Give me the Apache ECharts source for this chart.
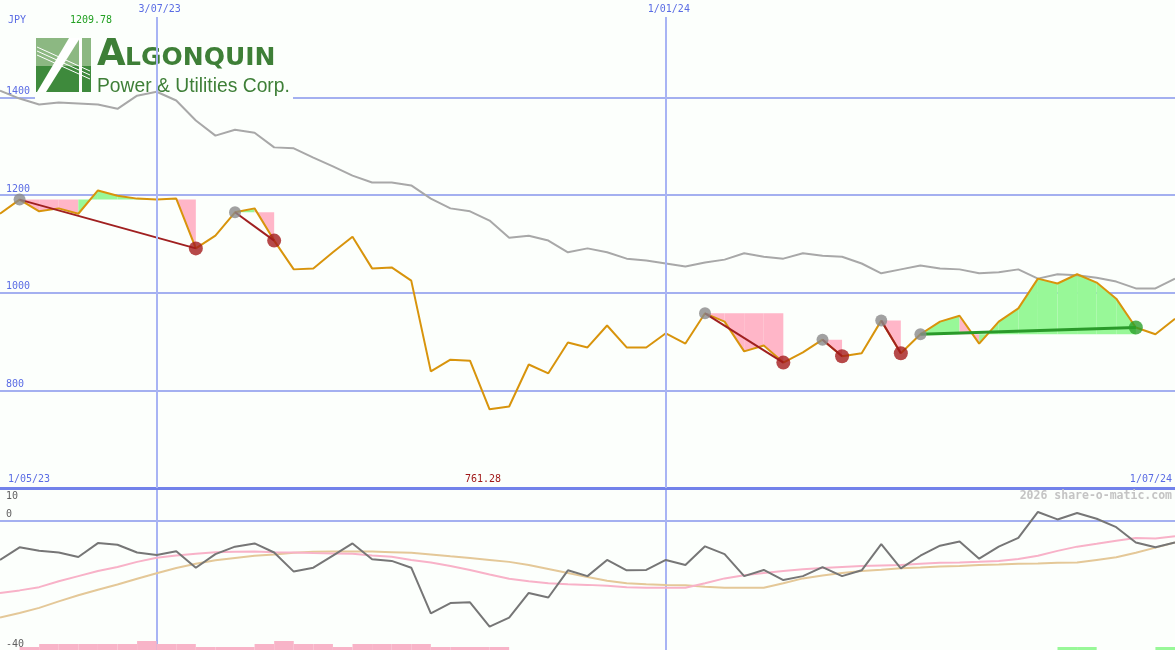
<!DOCTYPE html>
<html><head><meta charset="utf-8">
<script src="https://cdn.jsdelivr.net/npm/echarts@6/dist/echarts.min.js"></script>
<style>html,body{margin:0;padding:0;background:#fcfffc}#c{width:1175px;height:650px}</style>
</head><body><div id="c"></div>
<script>
// ---- data ----
const dates = ['8/05/23','15/05/23','22/05/23','29/05/23','5/06/23','12/06/23','19/06/23','26/06/23','3/07/23','10/07/23',
'17/07/23','24/07/23','31/07/23','7/08/23','14/08/23','21/08/23','28/08/23','4/09/23','11/09/23','18/09/23',
'25/09/23','2/10/23','9/10/23','16/10/23','23/10/23','30/10/23','6/11/23','13/11/23','20/11/23','27/11/23',
'4/12/23','11/12/23','18/12/23','25/12/23','1/01/24','8/01/24','15/01/24','22/01/24','29/01/24','5/02/24',
'12/02/24','19/02/24','26/02/24','4/03/24','11/03/24','18/03/24','25/03/24','1/04/24','8/04/24','15/04/24',
'22/04/24','29/04/24','6/05/24','13/05/24','20/05/24','27/05/24','3/06/24','10/06/24','17/06/24','24/06/24','1/07/24'];
const price = [1162,1191,1167,1173,1162,1209.78,1199,1193,1191,1193,
1091,1117,1165,1173,1107,1048,1050,1083,1115,1050,
1052,1025,839,863,861,761.28,767,853,835,898,
888,933,888,888,917,896,958,941,880,892,
857,878,904,870,876,943,876,915,941,953,
896,941,968,1029,1019,1038,1021,988,929,915,947];
const refLine = [1414,1398,1386,1390,1388,1386,1377,1404,1412,1394,
1353,1322,1334,1328,1298,1296,1277,1259,1240,1226,
1226,1220,1193,1173,1167,1148,1113,1117,1107,1083,
1091,1083,1070,1066,1060,1054,1062,1068,1081,1074,
1070,1081,1076,1074,1060,1040,1048,1056,1050,1048,
1040,1042,1048,1029,1038,1036,1031,1023,1009,1009,1029];
const momentum = [-12.2,-8.3,-9.4,-9.9,-11.3,-7.0,-7.5,-9.9,-10.7,-9.5,
-14.6,-10.4,-8.1,-7.1,-9.9,-15.8,-14.6,-10.9,-7.1,-12.0,
-12.5,-14.6,-28.7,-25.5,-25.3,-32.8,-30.0,-22.4,-23.8,-15.4,
-17.2,-12.2,-15.4,-15.3,-12.2,-13.75,-8.0,-10.4,-17.2,-15.3,
-18.4,-17.2,-14.4,-17.2,-15.4,-7.3,-14.8,-10.9,-7.8,-6.5,
-11.8,-8.1,-5.4,2.6,0.3,2.3,0.5,-2.1,-6.8,-8.3,-6.8];
const pinkAvg = [-22.4,-21.6,-20.6,-18.8,-17.2,-15.6,-14.4,-12.8,-11.5,-10.8,
-10.3,-9.8,-9.7,-9.6,-9.8,-9.9,-10.1,-10.2,-10.3,-10.8,
-11.25,-12.2,-13.0,-14.1,-15.3,-16.7,-18.0,-18.75,-19.4,-19.7,
-19.9,-20.2,-20.6,-20.8,-20.8,-20.8,-19.4,-17.9,-16.9,-16.2,
-15.6,-15.1,-14.7,-14.4,-14.1,-13.9,-13.75,-13.4,-13.1,-13.0,
-12.8,-12.5,-11.9,-10.9,-9.4,-8.1,-7.2,-6.25,-5.4,-5.6,-4.9];
const tanAvg = [-30,-28.6,-27.0,-25,-23.1,-21.4,-19.8,-18.0,-16.3,-14.7,
-13.4,-12.3,-11.6,-10.9,-10.5,-10,-9.7,-9.6,-9.6,-9.6,
-9.8,-10,-10.5,-11.1,-11.6,-12.2,-12.8,-13.75,-15,-16.25,
-17.5,-18.6,-19.4,-19.7,-19.9,-20,-20.5,-20.8,-20.8,-20.8,
-19.4,-17.9,-17.0,-16.25,-15.6,-15.2,-14.75,-14.5,-14.2,-14.1,
-13.75,-13.6,-13.4,-13.3,-13.1,-13.0,-12.2,-11.4,-10,-8.4,-6.8];
const swingStart = [1,12,36,42,45,47];
const swingEnd = [10,14,40,43,46,58];
const pinkBars = [0,1,2,2,2,2,2,3,2,2,1,1,1,2,3,2,2,1,2,2,2,2,1,1,1,1,
0,0,0,0,0,0,0,0,0,0,0,0,0,0,0,0,0,0,0,0,0,0,0,0,0,0,0,0,0,0,0,0,0,0];
const greenBars = [0,0,0,0,0,0,0,0,0,0,0,0,0,0,0,0,0,0,0,0,0,0,0,0,0,0,0,0,0,0,
0,0,0,0,0,0,0,0,0,0,0,0,0,0,0,0,0,0,0,0,0,0,0,0,1,1,0,0,0,1];
const markerDates = ['3/07/23','1/01/24'];
const startLabel = '1/05/23';
const currency = 'JPY';
const watermark = '2026 share-o-matic.com';

// ---- styles ----
const BG = '#fcfffc', BLUE = '#5a6ce4', HLINE = '#a4b0f0', VLINE = '#a8b4f4';
const MONO = 'DejaVu Sans Mono';
const PINK = '#ffb6c8', GREEN = '#98f898';
const LOGO = '#3e7f37';

const maxIdx = price.indexOf(Math.max(...price));
const minIdx = price.indexOf(Math.min(...price));

const fillData = [];
swingStart.forEach((s, k) => {
  const e = swingEnd[k], lvl = price[s];
  for (let i = s; i < e; i++) fillData.push([i, lvl, price[i], price[i + 1]]);
});

const chart = echarts.init(document.getElementById('c'), null, {renderer: 'canvas'});
const series = [];
series.push({
  type: 'custom', xAxisIndex: 0, yAxisIndex: 0, z: 2, silent: true,
  data: fillData, encode: {x: 0, y: [1, 2, 3]},
  renderItem: (params, api) => {
    const i = api.value(0), lvl = api.value(1), a = api.value(2), b = api.value(3);
    return {type: 'polygon', shape: {points: [api.coord([i, lvl]), api.coord([i, a]), api.coord([i + 1, b]), api.coord([i + 1, lvl])]},
      style: {fill: b >= lvl ? GREEN : PINK}};
  }
});
series.push({type: 'line', data: [], z: 0, silent: true, xAxisIndex: 0, yAxisIndex: 0,
  markLine: {symbol: 'none', silent: true, label: {show: false}, animation: false,
    lineStyle: {color: VLINE, width: 2, type: 'solid'},
    data: markerDates.map(d => [{coord: [d, 1565]}, {coord: [d, 600]}])}});
series.push({type: 'line', data: refLine, xAxisIndex: 0, yAxisIndex: 0, z: 3, symbol: 'none', lineStyle: {color: '#a8a8a8', width: 2}});
series.push({type: 'line', data: price, xAxisIndex: 0, yAxisIndex: 0, z: 3, symbol: 'none', lineStyle: {color: '#d8940c', width: 2}});
swingStart.forEach((s, k) => {
  const e = swingEnd[k];
  const up = price[e] > price[s];
  series.push({type: 'line', xAxisIndex: 0, yAxisIndex: 0, z: 4, symbol: 'none',
    data: [[s, price[s]], [e, price[e]]], lineStyle: {color: up ? '#2a9a2a' : '#a02020', width: up ? 3 : 2}});
});
series.push({type: 'scatter', xAxisIndex: 0, yAxisIndex: 0, z: 5, symbolSize: 12, itemStyle: {color: '#8a8a8a'},
  data: swingStart.map(s => [s, price[s]])});
series.push({type: 'scatter', xAxisIndex: 0, yAxisIndex: 0, z: 5, symbolSize: 14,
  data: swingEnd.map((e, k) => ({value: [e, price[e]], itemStyle: {color: price[e] > price[swingStart[k]] ? '#2aa02a' : '#a41c1c'}}))});
// lower panel
series.push({type: 'line', data: tanAvg, xAxisIndex: 2, yAxisIndex: 1, symbol: 'none', lineStyle: {color: '#e4c898', width: 2}});
series.push({type: 'line', data: pinkAvg, xAxisIndex: 2, yAxisIndex: 1, symbol: 'none', lineStyle: {color: '#f8b2c8', width: 2}});
series.push({type: 'line', data: momentum, xAxisIndex: 2, yAxisIndex: 1, symbol: 'none', lineStyle: {color: '#767676', width: 2}});
series.push({type: 'bar', data: pinkBars, xAxisIndex: 3, yAxisIndex: 3, barWidth: '100%', barGap: '-100%', itemStyle: {color: '#f8b4c8'}});
series.push({type: 'bar', data: greenBars, xAxisIndex: 3, yAxisIndex: 3, barWidth: '100%', barGap: '-100%', itemStyle: {color: '#98f898'}});

const lblBase = {fontFamily: MONO, fontSize: 10};
const gridBase = {left: 0, right: 0, outerBoundsMode: 'none', containLabel: false};
const option = {
  backgroundColor: BG,
  animation: false,
  grid: [
    Object.assign({top: 0, height: 488}, gridBase),
    Object.assign({top: 488, height: 162}, gridBase),
    Object.assign({top: 620, height: 30}, gridBase)
  ],
  xAxis: [
    {gridIndex: 0, type: 'category', data: dates, boundaryGap: false, position: 'bottom',
      axisLine: {show: true, lineStyle: {color: '#7282ea', width: 3}}, axisTick: {show: false}, splitLine: {show: false},
      axisLabel: Object.assign({inside: true, interval: 0, margin: 4, color: BLUE, alignMinLabel: 'left', alignMaxLabel: 'right',
        padding: [0, 3, 0, 8],
        formatter: (v, i) => i === 0 ? startLabel : (i === dates.length - 1 ? v : (i === minIdx ? '{m|' + price[minIdx].toFixed(2) + '}' : '')),
        rich: {m: {color: '#a01818', fontFamily: MONO, fontSize: 10, padding: [0, 18, 0, 0]}}}, lblBase)},
    {gridIndex: 0, type: 'category', data: dates, boundaryGap: false, position: 'top',
      axisLine: {show: false}, axisTick: {show: false}, splitLine: {show: false},
      axisLabel: Object.assign({inside: true, interval: 0, margin: 4, color: BLUE, padding: [0, 0, 0, 6],
        formatter: v => markerDates.includes(v) ? v : ''}, lblBase)},
    {gridIndex: 1, type: 'category', data: dates, boundaryGap: false,
      axisLine: {show: false}, axisTick: {show: false}, axisLabel: {show: false},
      splitLine: {show: true, interval: (i, v) => markerDates.includes(v), lineStyle: {color: VLINE, width: 2}}},
    {gridIndex: 2, type: 'category', data: dates.slice(0, dates.length - 1), boundaryGap: true, show: false}
  ],
  yAxis: [
    {gridIndex: 0, type: 'value', min: 600, max: 1600, interval: 200, position: 'left',
      axisLine: {show: false}, axisTick: {show: false},
      axisLabel: Object.assign({inside: true, margin: 6, color: BLUE, verticalAlign: 'bottom', padding: [0, 0, 1, 0],
        formatter: v => (v === 600 || v === 1600) ? '' : String(v)}, lblBase),
      splitLine: {show: true, showMinLine: false, showMaxLine: false, lineStyle: {color: HLINE, width: 2}}},
    {gridIndex: 1, type: 'value', min: -40, max: 10, interval: 40, position: 'left',
      axisLine: {show: false}, axisTick: {show: false},
      axisLabel: Object.assign({inside: true, margin: 6, color: '#606060', verticalAlign: 'bottom', padding: [0, 0, 1, 0],
        formatter: v => (v === 0 || v === -40) ? String(v) : ''}, lblBase),
      splitLine: {show: true, showMinLine: false, showMaxLine: false, lineStyle: {color: HLINE, width: 2}}},
    {gridIndex: 1, type: 'value', min: -40, max: 10, interval: 50, position: 'left', offset: 0,
      axisLine: {show: false}, axisTick: {show: false}, splitLine: {show: false},
      axisLabel: Object.assign({inside: true, margin: 6, color: '#606060', verticalAlign: 'top', padding: [3, 0, 0, 0],
        formatter: v => v === 10 ? '10' : ''}, lblBase)},
    {gridIndex: 2, type: 'value', min: 0, max: 10, show: false}
  ],
  graphic: [
    {type: 'rect', z: 1, shape: {x: 35, y: 26, width: 258, height: 73}, style: {fill: BG}},
    {type: 'rect', z: 1, shape: {x: 36, y: 38, width: 55, height: 54}, style: {fill: '#3e8a3c'}},
    {type: 'rect', z: 1, shape: {x: 36, y: 38, width: 55, height: 28}, style: {fill: '#8cb882'}},
    {type: 'line', z: 1, shape: {x1: 37, y1: 47, x2: 90, y2: 71}, style: {stroke: '#ffffff', lineWidth: 1}},
    {type: 'line', z: 1, shape: {x1: 37, y1: 51, x2: 90, y2: 75}, style: {stroke: '#ffffff', lineWidth: 1}},
    {type: 'line', z: 1, shape: {x1: 37, y1: 55, x2: 90, y2: 79}, style: {stroke: '#ffffff', lineWidth: 1}},
    {type: 'polygon', z: 1, shape: {points: [[37, 92], [46, 92], [80, 38], [69, 38]]}, style: {fill: '#ffffff'}},
    {type: 'rect', z: 1, shape: {x: 79, y: 38, width: 3, height: 54}, style: {fill: '#ffffff'}},
    {type: 'text', z: 1, x: 97, y: 74, style: {text: 'A', fill: LOGO, font: 'bold 37px "DejaVu Sans"', verticalAlign: 'bottom'}},
    {type: 'text', z: 1, x: 125, y: 71, style: {text: 'LGONQUIN', fill: LOGO, font: 'bold 25px "DejaVu Sans"', verticalAlign: 'bottom'}},
    {type: 'text', z: 1, x: 97, y: 77, style: {text: 'Power & Utilities Corp.', fill: LOGO, font: '19.3px "Liberation Sans"', verticalAlign: 'top'}},
    {type: 'text', z: 6, x: 8, y: 15, style: {text: currency, fill: BLUE, font: '10px "DejaVu Sans Mono"'}},
    {type: 'text', z: 6, x: 70, y: 15, style: {text: price[maxIdx].toFixed(2), fill: '#22a022', font: '10px "DejaVu Sans Mono"'}},
    {type: 'text', z: 6, right: 3, top: 490, style: {text: watermark, fill: '#c4c4c4', font: 'bold 11.5px "DejaVu Sans Mono"'}}
  ],
  series: series
};
chart.setOption(option);
</script></body></html>
